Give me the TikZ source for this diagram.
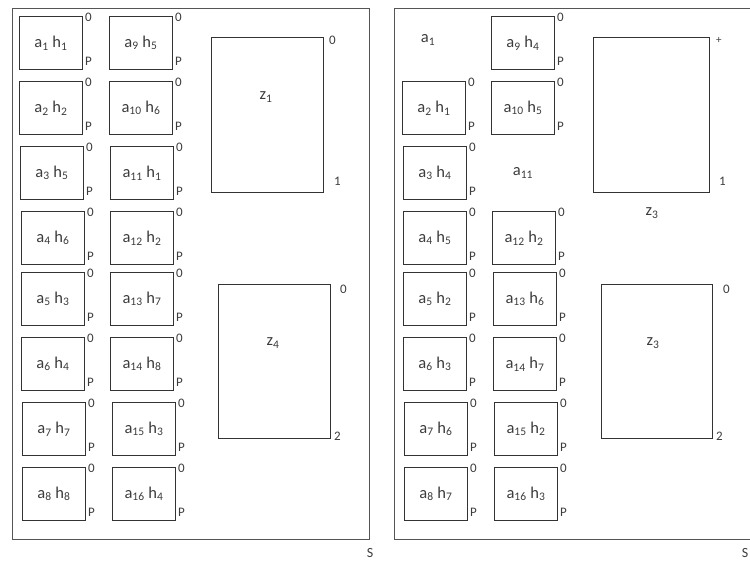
\documentclass[tikz,border=0pt]{standalone}
\usepackage{fontspec}
\setmainfont{Carlito}
\definecolor{linec}{HTML}{333333}
\definecolor{framec}{HTML}{555555}
\definecolor{txt}{HTML}{3C3C3C}
\begin{document}
\begin{tikzpicture}[x=1pt,y=-1pt,
  panel/.style={draw=framec, line width=1pt, inner sep=0pt, anchor=north west,
    minimum width=357pt, minimum height=531pt},
  cell/.style={draw=linec, line width=1pt, minimum width=63pt, minimum height=53pt,
    inner sep=0pt, anchor=north west, text=txt, font=\fontsize{16.5}{18}\selectfont},
  bigbox/.style={draw=linec, line width=1pt, inner sep=0pt, anchor=north west},
  tag/.style={inner sep=0pt, anchor=west, text=txt, font=\fontsize{13}{15}\selectfont},
  lbl/.style={inner sep=0pt, text=txt, font=\fontsize{16.5}{18}\selectfont}]
\useasboundingbox (0,0) rectangle (750,562);
\clip (0,0) rectangle (750,562);

% a cell with its 0 / P terminals
\newcommand\cellat[4]{%
  \node[cell] (#1) at (#2,#3) {#4};
  \node[tag] (#1o) at ([xshift=2pt,yshift=-1pt]#1.north east) {0};
  \node[tag] (#1p) at ([xshift=2pt,yshift=9pt]#1.south east) {P};
}
\newcommand\ah[2]{a\textsubscript{#1} h\textsubscript{#2}}

% ---------------- left panel ----------------
\node[panel] (lpanel) at (12,8) {};
\node[tag, anchor=center, font=\fontsize{14}{16}\selectfont] (ls) at (370,553) {S};

\cellat{la1}{19}{16}{\ah{1}{1}}
\cellat{la2}{19}{81}{\ah{2}{2}}
\cellat{la3}{20}{146}{\ah{3}{5}}
\cellat{la4}{21}{211}{\ah{4}{6}}
\cellat{la5}{21}{272}{\ah{5}{3}}
\cellat{la6}{21}{337}{\ah{6}{4}}
\cellat{la7}{22}{402}{\ah{7}{7}}
\cellat{la8}{22}{467}{\ah{8}{8}}

\cellat{la9}{109}{16}{\ah{9}{5}}
\cellat{la10}{109}{81}{\ah{10}{6}}
\cellat{la11}{110}{146}{\ah{11}{1}}
\cellat{la12}{110}{211}{\ah{12}{2}}
\cellat{la13}{110}{272}{\ah{13}{7}}
\cellat{la14}{110}{337}{\ah{14}{8}}
\cellat{la15}{112}{402}{\ah{15}{3}}
\cellat{la16}{112}{467}{\ah{16}{4}}

\node[bigbox, minimum width=112pt, minimum height=155pt] (lz1) at (211,37) {};
\node[lbl] at (266,97) {z\textsubscript{1}};
\node[tag] (lz1o) at ([xshift=5pt,yshift=-3pt]lz1.north east) {0};
\node[tag] (lz1i) at ([xshift=10pt,yshift=12pt]lz1.south east) {1};

\node[bigbox, minimum width=112pt, minimum height=154pt] (lz4) at (218,284) {};
\node[lbl] at (273,343) {z\textsubscript{4}};
\node[tag] (lz4o) at ([xshift=9pt,yshift=-5pt]lz4.north east) {0};
\node[tag] (lz4t) at ([xshift=3pt,yshift=3pt]lz4.south east) {2};

% ---------------- right panel ----------------
\node[panel] (rpanel) at (394,8) {};
\node[tag, anchor=center, font=\fontsize{14}{16}\selectfont] (rs) at (745,553) {S};

\node[lbl] (ra1) at (428,40) {a\textsubscript{1}};
\cellat{ra2}{402}{81}{\ah{2}{1}}
\cellat{ra3}{403}{146}{\ah{3}{4}}
\cellat{ra4}{403}{211}{\ah{4}{5}}
\cellat{ra5}{403}{272}{\ah{5}{2}}
\cellat{ra6}{403}{337}{\ah{6}{3}}
\cellat{ra7}{404}{402}{\ah{7}{6}}
\cellat{ra8}{404}{467}{\ah{8}{7}}

\cellat{ra9}{491}{16}{\ah{9}{4}}
\cellat{ra10}{491}{81}{\ah{10}{5}}
\node[lbl] (ra11) at (523,173) {a\textsubscript{11}};
\cellat{ra12}{492}{211}{\ah{12}{2}}
\cellat{ra13}{493}{272}{\ah{13}{6}}
\cellat{ra14}{493}{337}{\ah{14}{7}}
\cellat{ra15}{494}{402}{\ah{15}{2}}
\cellat{ra16}{494}{467}{\ah{16}{3}}

\node[bigbox, minimum width=116pt, minimum height=155pt] (rz3a) at (593,37) {};
\node[lbl] at (652,213) {z\textsubscript{3}};
\node[tag, font=\fontsize{11}{13}\selectfont] (rz3ap) at ([xshift=6pt,yshift=-3pt]rz3a.north east) {+};
\node[tag] (rz3ai) at ([xshift=9pt,yshift=12pt]rz3a.south east) {1};

\node[bigbox, minimum width=111pt, minimum height=154pt] (rz3b) at (601,284) {};
\node[lbl] at (653,343) {z\textsubscript{3}};
\node[tag] (rz3bo) at ([xshift=10pt,yshift=-5pt]rz3b.north east) {0};
\node[tag] (rz3bt) at ([xshift=3pt,yshift=3pt]rz3b.south east) {2};
\end{tikzpicture}
\end{document}
